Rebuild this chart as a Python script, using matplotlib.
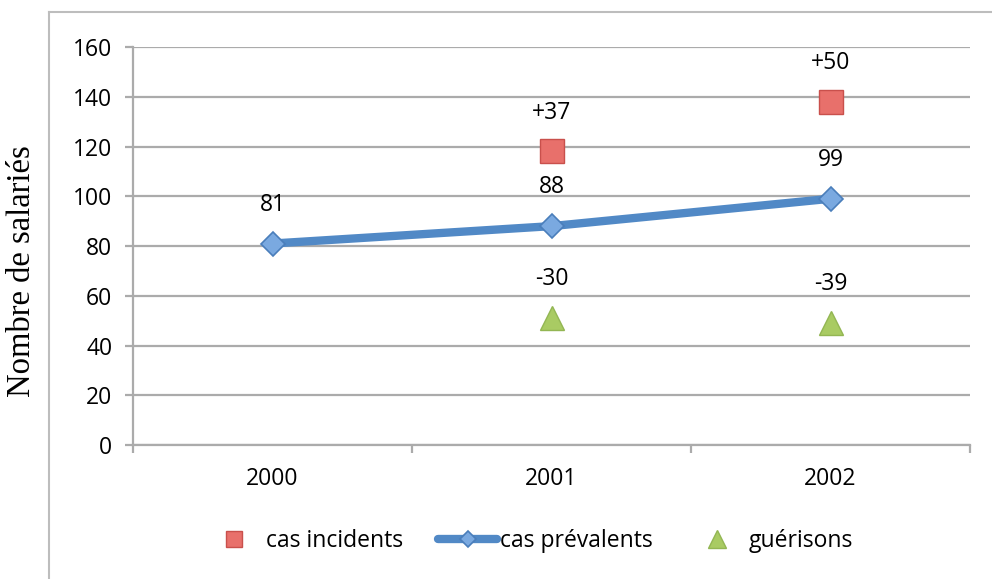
import matplotlib.pyplot as plt
from matplotlib.lines import Line2D

# data
years = ["2000", "2001", "2002"]
prevalents = [81, 88, 99]
incidents = [None, 118, 138]
incidents_lbl = [None, "+37", "+50"]
guerisons = [None, 51, 49]
guerisons_lbl = [None, "-30", "-39"]

FONT = "Open Sans"
FS = 16.5
GRID = "#ABABAB"

# series styles
LINE_KW = dict(color="#5189C6", lw=6, solid_capstyle="round", marker="D",
               markerfacecolor="#7AA9E0", markeredgecolor="#4A7EBB",
               markeredgewidth=1.2)
SQ_KW = dict(ls="none", marker="s", markerfacecolor="#E8706B",
             markeredgecolor="#C9504C", markeredgewidth=1.0)
TRI_KW = dict(ls="none", marker="^", markerfacecolor="#A9CB63",
              markeredgecolor="#93B653", markeredgewidth=1.0)

fig = plt.figure(figsize=(9.92, 5.79), dpi=100)
ax = fig.add_axes([0.1341, 0.2314, 0.8438, 0.6874])

x = list(range(len(years)))

# cas prévalents (line + diamonds)
ax.plot(x, prevalents, markersize=12, zorder=3, **LINE_KW)
for xi, v in zip(x, prevalents):
    ax.annotate(str(v), (xi, v), xytext=(0, 28), textcoords="offset points",
                ha="center", va="center", fontsize=FS, family=FONT)

# cas incidents (squares)
xs = [xi for xi, v in zip(x, incidents) if v is not None]
ys = [v for v in incidents if v is not None]
ax.plot(xs, ys, markersize=17, zorder=3, **SQ_KW)
for xi, v, t in zip(x, incidents, incidents_lbl):
    if v is not None:
        ax.annotate(t, (xi, v), xytext=(0, 28), textcoords="offset points",
                    ha="center", va="center", fontsize=FS, family=FONT)

# guérisons (triangles)
xg = [xi for xi, v in zip(x, guerisons) if v is not None]
yg = [v for v in guerisons if v is not None]
ax.plot(xg, yg, markersize=17, zorder=3, **TRI_KW)
for xi, v, t in zip(x, guerisons, guerisons_lbl):
    if v is not None:
        ax.annotate(t, (xi, v), xytext=(0, 28), textcoords="offset points",
                    ha="center", va="center", fontsize=FS, family=FONT)

# axes
ax.set_xlim(-0.5, 2.5)
ax.set_ylim(0, 160)
ax.set_yticks(range(0, 161, 20))
ax.yaxis.grid(True, color=GRID, lw=1.6)
ax.set_axisbelow(True)
ax.set_xticks([-0.5, 0.5, 1.5, 2.5])
ax.set_xticklabels([])
ax.set_xticks(x, minor=True)
ax.set_xticklabels(years, minor=True, fontsize=FS, family=FONT)
ax.tick_params(axis="x", which="major", length=6, width=1.6, color=GRID)
ax.tick_params(axis="x", which="minor", length=0, pad=16)
ax.tick_params(axis="y", length=6, width=1.6, color=GRID, pad=9, labelsize=FS)
for lab in ax.get_yticklabels():
    lab.set_family(FONT)
for s in ["top", "right"]:
    ax.spines[s].set_visible(False)
for s in ["left", "bottom"]:
    ax.spines[s].set_color(GRID)
    ax.spines[s].set_linewidth(1.6)

# y title sits a little below the axes centre in the source
fig.text(0.0222, 0.532, "Nombre de salariés", family="Liberation Serif",
         fontsize=23.5, rotation=90, ha="center", va="center")

# legend with smaller proxy markers, as in the source
handles = [Line2D([], [], markersize=12, **SQ_KW),
           Line2D([], [], markersize=8, **LINE_KW),
           Line2D([], [], markersize=13, **TRI_KW)]
labels = ["cas incidents", "cas prévalents", "guérisons"]
fig.legend(handles, labels, loc="center", bbox_to_anchor=(0.533, 0.066),
           ncol=3, frameon=False, prop={"family": FONT, "size": FS},
           handlelength=2.6, columnspacing=1.5, handletextpad=0.1,
           borderpad=0, borderaxespad=0)

# outer chart frame (left and top only, as in the source)
fig.add_artist(Line2D([0.049, 0.049], [0.0, 0.979], transform=fig.transFigure,
                      color="#BDBDBD", lw=1.5))
fig.add_artist(Line2D([0.049, 1.0], [0.979, 0.979], transform=fig.transFigure,
                      color="#BDBDBD", lw=1.5))

fig.savefig("out.png", dpi=100)
